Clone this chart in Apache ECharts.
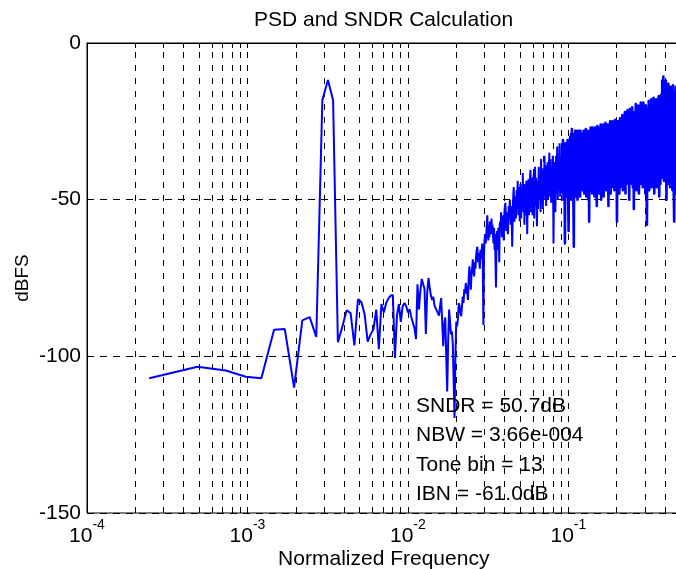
<!DOCTYPE html>
<html><head><meta charset="utf-8">
<script src="https://cdn.jsdelivr.net/npm/echarts@6/dist/echarts.min.js"></script>
<style>html,body{margin:0;padding:0;background:#fff}#c{width:676px;height:569px}</style>
</head><body><div id="c"></div>
<script>
// ---------- data ----------
const NFFT = 4096;
const titleText = 'PSD and SNDR Calculation';
const xName = 'Normalized Frequency';
const yName = 'dBFS';
const notes = ['SNDR = 50.7dB', 'NBW = 3.66e-004', 'Tone bin = 13', 'IBN = -61.0dB'];
const yMin = -150, yMax = 0, yStep = 50;
const xMin = 1e-4, xMax = 0.5;

// PSD (dBFS) for bins 1..100
const lowDb = [
 -107,-103.3,-104.5,-106.5,-107,-91.5,-91.3,-110,-88.5,-87.5,
 -93.8,-18.3,-11.8,-18.3,-95.5,-90.5,-85.3,-86.2,-96.5,-81.8,
 -82.7,-86.5,-95.3,-93,-91.3,-85.1,-97.7,-83.3,-86,-83,
 -81.5,-80.6,-80.4,-100.5,-87,-83.3,-89,-84,-83,-84,
 -86,-85,-87.5,-88,-91,-94.5,-77,-85,-79,-75.3,
 -77,-78.5,-92.9,-80,-75,-78,-80.6,-82,-81,-83.8,
 -84,-85.4,-86,-87,-84,-81.4,-89,-96.8,-90,-87.6,
 -100,-111.2,-95,-85.1,-89,-93,-92,-96,-108,-119.7,
 -100,-89,-90.4,-88,-83,-84,-86,-87.2,-84,-80.9,
 -83,-78.5,-80,-76.6,-78,-79.8,-82,-75,-71.3,-74
];

// PSD for selected higher bins (dense noise-shaped region)
const bandBins = [
 101,102,103,104,105,106,107,108,109,110,
 111,112,113,114,115,116,117,118,119,120,
 121,122,123,124,125,126,127,128,129,130,
 131,132,133,134,135,136,137,138,139,140,
 141,142,143,144,145,146,147,148,149,150,
 151,152,153,154,155,156,
 158,160,162,164,166,168,170,172,174,175,
 177,179,181,183,185,187,189,191,193,195,
 196,198,200,202,204,206,208,210,212,213,
 215,217,218,220,222,224,226,227,229,231,
 233,235,238,240,242,245,247,249,251,254,
 256,258,261,263,265,268,270,273,275,277,
 279,281,284,286,288,291,293,296,298,300,
 302,304,306,309,312,314,317,320,322,325,
 328,331,334,337,340,343,346,349,352,355,
 358,361,364,367,370,
 373,376,379,382,385,388,390,393,396,399,
 402,405,408,411,414,417,420,423,426,428,
 431,434,437,440,443,446,449,452,455,458,
 461,464,467,470,473,476,479,482,485,488,
 491,494,
 498,502,506,510,514,518,522,526,530,534,
 538,542,546,549,552,556,560,564,568,
 572,576,581,586,591,596,601,606,611,616,
 621,626,631,636,641,646,651,656,
 662,668,674,680,686,692,698,704,710,716,
 722,728,734,740,746,752,758,
 765,772,779,786,793,800,807,815,823,830,
 837,845,852,859,866,873,880,
 888,896,905,913,922,930,939,947,956,964,
 973,981,990,998,1006,1014,
 1024,1034,1044,1048,1058,1068,1078,1088,1098,1108,
 1118,1128,1138,1148,1158,1168,
 1180,1191,1202,1213,1224,1235,1246,1257,1265,1276,
 1287,1298,1309,1320,1331,1342,1353,
 1366,1379,1392,1405,1418,1431,1444,1457,1470,1483,
 1496,1509,1522,1535,1548,1561,
 1575,1590,1600,1615,1630,1645,1660,1674,1690,1705,
 1720,1735,1750,1765,1780,1795,
 1810,1825,1840,1855,1870,1885,1900,1915,1930,1945,
 1960,1975,1990,2005,2020,2035,2048
];
const bandDb = [
 -78.7,-74,-72,-69,-73,-74.5,-70,-72,-68,-66,
 -65,-70,-67,-69,-72,-66,-69,-67,-64,-71,
 -90,-68,-63,-61,-64,-62,-58,-55,-60,-63,
 -58,-62,-57,-60,-61,-56,-60,-58,-62,-64,
 -59,-66,-61,-70,-78,-64,-60,-62,-66,-59,
 -63,-70,-58,-57,-60,-54,
 -62,-55,-63,-53,-51,-60,-54,-61,-52,-56,
 -50,-58,-52,-65,-51,-46,-57,-49,-56,-47,
 -53,-44,-55,-46,-57,-45,-56,-47,-53,-41.5,
 -54,-45,-58,-46,-55,-44,-53,-61,-46,-43.5,
 -55,-44,-40.5,-54,-43,-55,-44,-42,-56,-39.5,
 -52,-43,-58.5,-44,-53,-39.5,-50,-42,-54,-37,
 -51,-41,-53,-40,-50,-36,-49,-42,-52,-39,
 -48,-38,-50,-40,-35,-49,-37,-51,-40,-47,
 -36,-64,-38,-49,-54,-36,-48,-33,-50,-39,
 -47,-32,-49,-36,-48,
 -33,-47,-31,-50,-34,-46,-64,-32,-48,-35,
 -49,-31,-45,-60,-33,-48,-30,-47,-29,-50,
 -27.5,-46,-30,-48,-65,-29,-45,-28,-49,-31,
 -46,-28,-50,-30,-44,-28,-47,-32,-49,-28,
 -45,-30,
 -47,-29,-44,-28,-48,-31,-45,-27.5,-49,-30,
 -46,-28,-50,-33,-57,-28,-45,-27,-47,
 -29,-48,-27,-44,-31,-49,-27,-45,-29,-52,
 -26.5,-46,-30,-48,-27,-44,-26,-50,
 -29,-45,-26,-49,-28,-44,-25.5,-47,-30,-45,
 -26,-52,-28,-44,-25,-48,-27,
 -46,-25,-43,-29,-47,-24.5,-45,-27,-57,-25,
 -44,-30,-48,-24,-46,-26,-44,
 -23,-47,-27,-43,-22,-48,-26,-45,-21.5,-44,
 -28,-50,-21,-45,-25,-43,
 -20.5,-46,-27,-53,-22,-44,-19.5,-47,-25,-43,
 -20,-48,-24,-45,-19,-44,
 -24,-46,-19,-43,-26,-48,-20,-44,-58,-21,
 -45,-18.5,-47,-25,-43,-18,-46,
 -22,-44,-17.5,-48,-24,-43,-18,-46,-26,-44,
 -17,-49,-21,-45,-16.5,-43,
 -12,-40,-10.7,-44,-13,-42,-12,-50,-15,-45,
 -13,-41,-16,-46,-14,-43,
 -15,-47,-13.5,-44,-57,-16,-45,-14,-48,-17,
 -44,-15,-49,-18,-46,-16,-44
];

// ---------- build ----------
const FONT = '"Liberation Sans", Arial, Helvetica, sans-serif';
const SPLIT_BIN = 370; // dense part drawn with a slightly heavier stroke
const ptsA = [], ptsB = [];
lowDb.forEach((v, i) => ptsA.push([(i + 1) / NFFT, v]));
const nBand = Math.min(bandBins.length, bandDb.length);
for (let i = 0; i < nBand; i++) {
  const p = [bandBins[i] / NFFT, bandDb[i]];
  if (bandBins[i] <= SPLIT_BIN) ptsA.push(p);
  if (bandBins[i] >= SPLIT_BIN) ptsB.push(p);
}

// log grid positions (m * 10^e)
const gridF = [];
for (let e = -4; e <= -1; e++) for (let m = 1; m <= 9; m++) {
  const f = m * Math.pow(10, e);
  if (f > xMin * 1.0001 && f < xMax * 0.9999) gridF.push(f);
}
const tickLen = 1.6; // dB (~5px)
const tickSegs = [];
gridF.forEach(f => {
  tickSegs.push([{coord: [f, yMin]}, {coord: [f, yMin + tickLen]}]);
  tickSegs.push([{coord: [f, yMax]}, {coord: [f, yMax - tickLen]}]);
});

const chart = echarts.init(document.getElementById('c'), null, {renderer: 'canvas', width: 676, height: 569});
const lineBase = {type: 'line', z: 3, silent: true, symbol: 'none', showSymbol: false, emphasis: {disabled: true}};
const option = {
  animation: false,
  backgroundColor: '#fff',
  grid: {left: 87, right: -4.5, top: 43, bottom: 56, containLabel: false, outerBoundsMode: 'none',
         show: true, borderColor: '#000', borderWidth: 1, backgroundColor: 'transparent'},
  xAxis: {
    type: 'log', logBase: 10, min: xMin, max: xMax,
    axisLine: {show: true, lineStyle: {color: '#000', width: 1}},
    axisTick: {show: false},
    splitLine: {show: false},
    minorTick: {show: false},
    axisLabel: {
      show: true, margin: 5, showMinLabel: true, showMaxLabel: false, hideOverlap: false,
      formatter: function (v) {
        const e = Math.log10(v), r = Math.round(e);
        if (Math.abs(e - r) > 1e-6) return '';
        return '{b|10}{s|' + r + '}';
      },
      rich: {
        b: {fontSize: 21, fontFamily: FONT, color: '#000', padding: [8, 0, 0, 0]},
        s: {fontSize: 14, fontFamily: FONT, color: '#000', verticalAlign: 'top'}
      }
    },
    name: xName, nameLocation: 'middle', nameGap: 36, nameMoveOverlap: false,
    nameTextStyle: {fontSize: 21, fontFamily: FONT, color: '#000'}
  },
  yAxis: {
    type: 'value', min: yMin, max: yMax, interval: yStep,
    axisLine: {show: true, lineStyle: {color: '#000', width: 1}},
    axisTick: {show: true, inside: true, length: 5, lineStyle: {color: '#000'}},
    splitLine: {show: true, lineStyle: {color: '#000', width: 1, type: [7, 6]}},
    axisLabel: {fontSize: 21, fontFamily: FONT, color: '#000', margin: 6},
    name: yName, nameLocation: 'middle', nameGap: 55, nameRotate: 90, nameMoveOverlap: false,
    nameTextStyle: {fontSize: 19, fontFamily: FONT, color: '#000'}
  },
  series: [
    {
      type: 'line', data: [], z: 1, silent: true,
      markLine: {
        z: 1, silent: true, animation: false, symbol: ['none', 'none'], precision: 12,
        label: {show: false}, emphasis: {disabled: true},
        lineStyle: {color: '#000', width: 1, type: [6, 7]},
        data: gridF.map(f => ({xAxis: f}))
      }
    },
    {
      type: 'line', data: [], z: 1, silent: true,
      markLine: {
        z: 1, silent: true, animation: false, symbol: ['none', 'none'], precision: 12,
        label: {show: false}, emphasis: {disabled: true},
        lineStyle: {color: '#000', width: 1, type: 'solid'},
        data: tickSegs
      }
    },
    Object.assign({}, lineBase, {data: ptsA, lineStyle: {color: '#0000ff', width: 2}}),
    Object.assign({}, lineBase, {data: ptsB, lineStyle: {color: '#0000ff', width: 2.6, join: 'round'}})
  ],
  graphic: [
    {type: 'text', x: 383.5, y: 20, z: 10, silent: true,
     style: {text: titleText, fill: '#000', fontSize: 21, fontFamily: FONT,
             textAlign: 'center', textVerticalAlign: 'middle', align: 'center', verticalAlign: 'middle'}}
  ].concat(notes.map((t, i) => ({
    type: 'text', x: 416, y: 406 + i * 29.5, z: 10, silent: true,
    style: {text: t, fill: '#000', fontSize: 21, fontFamily: FONT,
            textAlign: 'left', textVerticalAlign: 'middle', align: 'left', verticalAlign: 'middle'}
  })))
};
chart.setOption(option);
</script>
</body></html>
